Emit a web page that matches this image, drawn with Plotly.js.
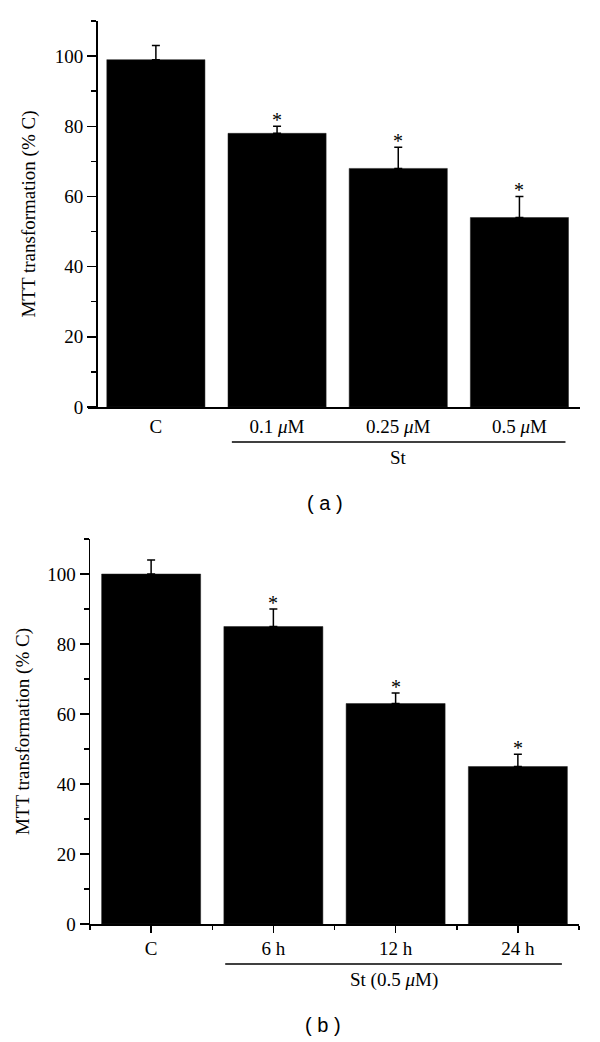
<!DOCTYPE html>
<html>
<head>
<meta charset="utf-8">
<script src="https://cdn.plot.ly/plotly-3.0.1.min.js"></script>
<style>
  html, body { margin: 0; padding: 0; background: #fff; }
  #chart { width: 600px; height: 1042px; }
</style>
</head>
<body>
<div id="chart"></div>
<script>
// panel (a): concentration
var catsA = ['C', '0.1 <i>μ</i>M', '0.25 <i>μ</i>M', '0.5 <i>μ</i>M'];
var valsA = [99, 78, 68, 54];
var errA = [4, 2, 6, 6];
var starsA = ['', '*', '*', '*'];
var groupA = 'St';

// panel (b): time at 0.5 uM
var catsB = ['C', '6 h', '12 h', '24 h'];
var valsB = [100, 85, 63, 45];
var errB = [4, 5, 3, 3.5];
var starsB = ['', '*', '*', '*'];
var groupB = 'St (0.5 <i>μ</i>M)';

var yTicks = [0, 20, 40, 60, 80, 100];
var yTitle = 'MTT transformation (% C)';

var serif = 'Liberation Serif';
var sans = 'Liberation Sans';
var idx = catsA.map(function(c, i){ return i; });

function zeros(n){ return new Array(n).fill(0); }

function bars(vals, err, xa, ya){
    return {
        type: 'bar', x: idx, y: vals, xaxis: xa, yaxis: ya,
        marker: {color: '#000', line: {color: '#222', width: 0.5}},
        error_y: {type: 'data', symmetric: false, array: err, arrayminus: zeros(err.length),
                  color: '#000', thickness: 1.5, width: 4},
        hoverinfo: 'none'
    };
}

// asterisks sit just above the error bar caps
function stars(vals, err, marks, xa, ya){
    var out = [];
    marks.forEach(function(m, i){
        if (!m) return;
        out.push({text: m, xref: xa, yref: ya, x: idx[i], y: vals[i] + err[i],
                  yanchor: 'bottom', yshift: -7, showarrow: false,
                  font: {family: serif, size: 20, color: '#000'}});
    });
    return out;
}

function label(text, xref, x, ypx, fam, size){
    return {text: text, xref: xref, yref: 'paper', x: x, y: 1 - ypx / 1042,
            xanchor: 'center', yanchor: 'middle', showarrow: false,
            font: {family: fam, size: size, color: '#000'}};
}

var data = [bars(valsA, errA, 'x', 'y'), bars(valsB, errB, 'x2', 'y2')];

var yaxisBase = {
    range: [0, 110], tickvals: yTicks, showgrid: false, zeroline: false,
    showline: true, linecolor: '#000', linewidth: 1.5,
    ticks: 'outside', ticklen: 9, tickwidth: 1.5, tickcolor: '#000',
    minor: {dtick: 10, tick0: 0, ticks: 'outside', ticklen: 5, tickwidth: 1.5, tickcolor: '#000'},
    tickfont: {family: serif, size: 19, color: '#000'},
    title: {text: yTitle, font: {family: serif, size: 19, color: '#000'}, standoff: 12}
};

var layout = {
    width: 600, height: 1042,
    margin: {l: 0, r: 0, t: 0, b: 0},
    paper_bgcolor: '#fff', plot_bgcolor: 'rgba(0,0,0,0)',
    showlegend: false, bargap: 0.19,
    font: {family: serif, color: '#000'},
    xaxis: {
        domain: [0.1467, 0.9667], range: [-0.56, 3.5], anchor: 'y',
        tickvals: idx, ticktext: catsA, ticks: '', showgrid: false, zeroline: false,
        showline: true, linecolor: '#000', linewidth: 1.5,
        tickfont: {family: serif, size: 19, color: '#000'}, ticklabelstandoff: 2
    },
    yaxis: Object.assign({}, yaxisBase, {
        domain: [0.6094, 0.9798], anchor: 'free', position: 0.16
    }),
    xaxis2: {
        domain: [0.15, 0.965], range: [-0.5, 3.5], anchor: 'y2',
        tickvals: idx, ticktext: catsB, showgrid: false, zeroline: false,
        showline: true, linecolor: '#000', linewidth: 1.5,
        ticks: 'outside', ticklen: 7, tickwidth: 1.5, tickcolor: '#000',
        minor: {tick0: 0.5, dtick: 1, ticks: 'outside', ticklen: 4, tickwidth: 1.5, tickcolor: '#000'},
        tickfont: {family: serif, size: 19, color: '#000'}
    },
    yaxis2: Object.assign({}, yaxisBase, {
        domain: [0.1132, 0.4827], anchor: 'x2'
    }),
    shapes: [
        {type: 'line', xref: 'x', yref: 'paper', x0: 0.627, x1: 3.38,
         y0: 1 - 442 / 1042, y1: 1 - 442 / 1042, line: {color: '#000', width: 1.5}},
        {type: 'line', xref: 'x2', yref: 'paper', x0: 0.606, x1: 3.36,
         y0: 1 - 964 / 1042, y1: 1 - 964 / 1042, line: {color: '#000', width: 1.5}}
    ],
    annotations: [
        label(groupA, 'x', 2.0, 457, serif, 19),
        label(groupB, 'x2', 1.99, 980, serif, 19),
        label('( a )', 'paper', 325 / 600, 503, sans, 20),
        label('( b )', 'paper', 323 / 600, 1025, sans, 20)
    ].concat(stars(valsA, errA, starsA, 'x', 'y'), stars(valsB, errB, starsB, 'x2', 'y2'))
};

Plotly.newPlot('chart', data, layout, {displayModeBar: false, staticPlot: true});
</script>
</body>
</html>
